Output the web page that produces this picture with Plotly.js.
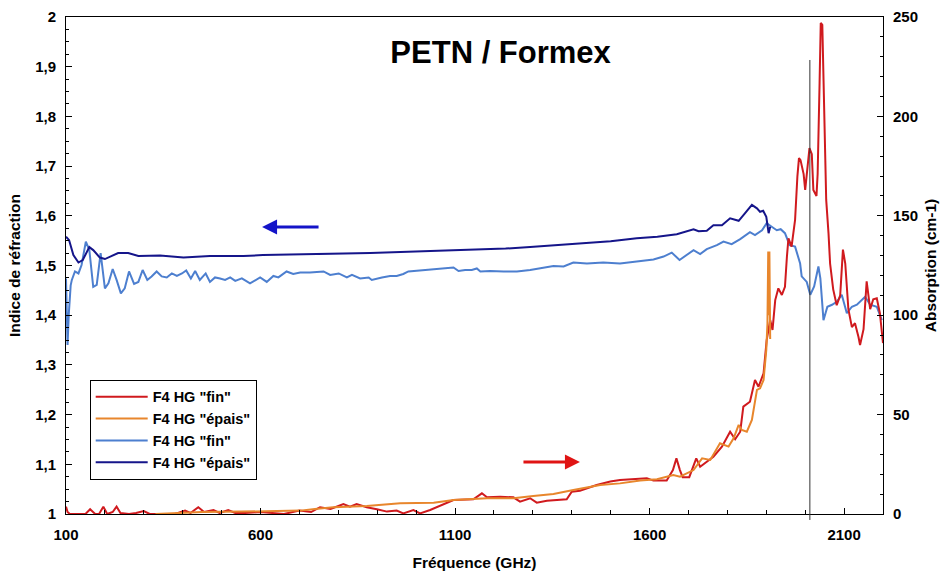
<!DOCTYPE html>
<html>
<head>
<meta charset="utf-8">
<script src="https://cdn.plot.ly/plotly-3.0.1.min.js"></script>
<style>html,body{margin:0;padding:0;background:#fff;}#chart{width:941px;height:576px;}</style>
</head>
<body>
<div id="chart"></div>
<script>
// Refractive index, thick sample ("épais") - dark blue
const freqNEpais = [100,108,119,132,143,160,170,187,200,213,234,260,286,342,402,470,556,606,702,800,882,960,1036,1100,1156,1230,1293,1370,1439,1500,1567,1620,1670,1713,1726,1747,1764,1786,1807,1829,1845,1863,1876,1884,1892,1900,1906,1910];
const nEpais     = [1.558,1.551,1.521,1.506,1.511,1.537,1.531,1.516,1.513,1.518,1.525,1.525,1.519,1.520,1.516,1.519,1.519,1.521,1.522,1.523,1.525,1.527,1.529,1.530,1.531,1.534,1.537,1.541,1.545,1.549,1.555,1.558,1.563,1.573,1.569,1.570,1.581,1.581,1.595,1.590,1.605,1.622,1.615,1.608,1.610,1.598,1.565,1.578];

// Refractive index, thin sample ("fin") - light blue
const freqNFin = [100,102,104,107,112,115,123,132,140,151,160,170,179,189,200,209,220,230,241,251,262,275,286,297,309,320,333,346,359,372,385,398,409,421,432,444,459,470,483,496,509,522,535,552,573,599,616,633,646,667,684,702,727,762,779,801,822,835,856,878,886,912,933,950,967,980,1010,1036,1079,1096,1109,1126,1143,1156,1165,1190,1225,1259,1293,1319,1353,1379,1404,1439,1481,1524,1567,1610,1636,1657,1677,1696,1713,1730,1747,1773,1790,1811,1833,1858,1871,1889,1901,1914,1927,1937,1948,1960,1974,1987,1991,2004,2013,2023,2034,2039,2047,2057,2069,2081,2094,2107,2120,2133,2154,2167,2184,2197];
const nFin     = [1.474,1.42,1.34,1.40,1.46,1.471,1.488,1.484,1.501,1.548,1.531,1.457,1.461,1.525,1.454,1.464,1.493,1.471,1.444,1.454,1.488,1.463,1.467,1.491,1.471,1.478,1.488,1.478,1.476,1.484,1.479,1.484,1.490,1.474,1.489,1.471,1.484,1.467,1.476,1.474,1.471,1.476,1.469,1.474,1.464,1.476,1.467,1.479,1.476,1.488,1.483,1.486,1.486,1.488,1.481,1.484,1.476,1.481,1.474,1.476,1.471,1.476,1.479,1.479,1.483,1.488,1.490,1.492,1.494,1.496,1.489,1.491,1.491,1.494,1.488,1.489,1.488,1.488,1.491,1.494,1.499,1.498,1.506,1.504,1.506,1.504,1.508,1.512,1.518,1.526,1.511,1.521,1.531,1.523,1.533,1.541,1.548,1.543,1.553,1.567,1.561,1.571,1.585,1.578,1.571,1.573,1.565,1.541,1.538,1.504,1.478,1.467,1.441,1.458,1.498,1.474,1.390,1.417,1.421,1.427,1.441,1.404,1.417,1.421,1.437,1.421,1.417,1.390];

// Absorption, thin sample ("fin") - red
const freqAFin = [100,104,110,150,162,175,185,196,206,220,230,240,262,280,300,315,380,395,406,420,440,455,479,495,517,535,560,600,640,660,700,730,753,780,813,830,847,873,899,925,950,967,993,1010,1036,1062,1096,1147,1169,1182,1216,1250,1267,1293,1310,1336,1362,1387,1400,1421,1464,1499,1524,1559,1593,1610,1644,1660,1669,1678,1685,1702,1720,1730,1747,1764,1786,1798,1807,1820,1833,1841,1858,1871,1880,1893,1901,1910,1916,1923,1931,1940,1948,1953,1957,1965,1974,1980,1984,1988,1996,2000,2006,2011,2017,2021,2029,2032,2037,2040,2044,2047,2054,2060,2064,2072,2077,2081,2090,2097,2103,2111,2120,2128,2137,2141,2150,2158,2167,2175,2184,2192,2200];
const aFin     = [3.7,1,0,0,2.4,0,0,3.7,0,1,3.7,0.5,0,0.5,1.5,0,0,1,1.7,0.5,3.4,1,2,0.5,2,0.5,0.5,1,0.5,0,1.7,1,3.4,2.5,5.0,3.7,5.0,3.4,2.4,1.2,1.7,0.3,2.0,0.3,2.0,4.0,7.0,7.4,10.4,8.4,8.7,8.4,6.2,7.9,5.7,6.7,7.0,7.4,11.2,11.7,14.6,16.3,17.1,17.5,18.0,16.8,16.8,22.1,28.0,22.1,18.5,18.5,28.0,23.8,26.3,28.8,33.9,38.1,41.4,37.6,41.4,54.0,56.5,67.4,64.0,70.8,87.5,97.6,92.6,107.6,113.5,110.2,114.3,129.4,138.7,134.5,147.9,170,179,178,171,163,176,184,181,163,160,171,217,247,246,215,158,141,126,113,108,105,110,133,126,103,94,96,89,85,93,117,103,108,108.5,101,86];

// Absorption, thick sample ("épais") - orange
const freqAEpais = [330,375,450,550,650,702,740,787,873,959,1045,1096,1182,1250,1301,1353,1404,1473,1524,1576,1619,1644,1661,1678,1713,1735,1756,1781,1803,1816,1829,1837,1850,1863,1876,1884,1893,1900,1903,1905,1906.5,1908,1910];
const aEpais     = [0,0.5,1,1.2,1.5,1.7,2.5,3.4,4.0,5.4,5.7,7.0,7.9,7.9,9.1,10.1,12.1,14.6,15.4,16.8,17.5,18.8,19.6,18.8,22.1,28.0,27.2,35.6,33.9,38.1,44.8,42.3,41.4,47.3,62.4,63.2,67.4,82.5,95.9,132,100,132,88];

const seriesNames = ['F4 HG "fin"','F4 HG "épais"','F4 HG "fin"','F4 HG "épais"'];
const xTickVals = [100,600,1100,1600,2100];

const fam = 'Liberation Sans, Arial, sans-serif';
const tickFont = {family:fam, size:15, color:'#000', weight:700};
const titleFont = {family:fam, size:15.5, color:'#000', weight:700};
const legendFont = {family:fam, size:14.5, color:'#000', weight:700};

const traces = [
  {x:freqAFin, y:aFin, name:seriesNames[0], yaxis:'y2', mode:'lines', line:{color:'#D01A1E', width:2}},
  {x:freqAEpais, y:aEpais, name:seriesNames[1], yaxis:'y2', mode:'lines', line:{color:'#E8862C', width:2}},
  {x:freqNFin, y:nFin, name:seriesNames[2], yaxis:'y', mode:'lines', line:{color:'#4D7FCF', width:2}},
  {x:freqNEpais, y:nEpais, name:seriesNames[3], yaxis:'y', mode:'lines', line:{color:'#15158A', width:2}}
];

const layout = {
  width:941, height:576,
  margin:{l:66, r:58, t:17, b:62},
  paper_bgcolor:'#fff', plot_bgcolor:'#fff',
  separators:', ',
  showlegend:true,
  title:{text:'PETN / Formex', font:{family:fam, size:31, color:'#000', weight:700}, x:0.532, xref:'container', y:0.91, yref:'container', xanchor:'center', yanchor:'middle'},
  xaxis:{range:[100,2200], tickvals:xTickVals, ticktext:xTickVals.map(String), ticks:'inside', ticklen:6, tickcolor:'#000',
         minor:{dtick:100, tick0:100, ticks:'inside', ticklen:4, tickcolor:'#000'},
         showline:true, linecolor:'#000', linewidth:1, mirror:true, showgrid:false, zeroline:false,
         tickfont:tickFont, ticklabelstandoff:7,
         title:{text:'Fréquence (GHz)', font:titleFont, standoff:15}},
  yaxis:{range:[1,2], dtick:0.1, tick0:1, ticks:'inside', ticklen:6, tickcolor:'#000',
         minor:{dtick:0.025, ticks:'inside', ticklen:3, tickcolor:'#000'},
         showline:true, linecolor:'#000', linewidth:1, showgrid:false, zeroline:false,
         tickfont:tickFont, ticklabelstandoff:6,
         title:{text:'Indice de réfraction', font:titleFont, standoff:10}},
  yaxis2:{range:[0,250], dtick:50, overlaying:'y', side:'right', ticks:'inside', ticklen:6, tickcolor:'#000',
         minor:{dtick:10, ticks:'inside', ticklen:3, tickcolor:'#000'},
         showline:true, linecolor:'#000', linewidth:1, showgrid:false, zeroline:false,
         tickfont:tickFont, ticklabelstandoff:6,
         title:{text:'Absorption (cm-1)', font:titleFont, standoff:8}},
  legend:{x:0.029, y:0.27, xanchor:'left', yanchor:'top', bgcolor:'#fff', bordercolor:'#000', borderwidth:1,
          font:legendFont, tracegroupgap:0, itemwidth:52},
  shapes:[
    {type:'line', xref:'x', yref:'paper', x0:2012, x1:2012, y0:-0.012, y1:0.9135, line:{color:'#333', width:1}}
  ],
  annotations:[
    {xref:'x', yref:'y', axref:'x', ayref:'y', x:604, y:1.5775, ax:753, ay:1.5775, text:'', showarrow:true, arrowhead:2, arrowsize:1, arrowwidth:3, arrowcolor:'#1414C8'},
    {xref:'x', yref:'y', axref:'x', ayref:'y', x:1421, y:1.1046, ax:1272, ay:1.1046, text:'', showarrow:true, arrowhead:2, arrowsize:1, arrowwidth:3, arrowcolor:'#E01414'}
  ]
};

Plotly.newPlot('chart', traces, layout, {displayModeBar:false, staticPlot:true});
</script>
</body>
</html>
